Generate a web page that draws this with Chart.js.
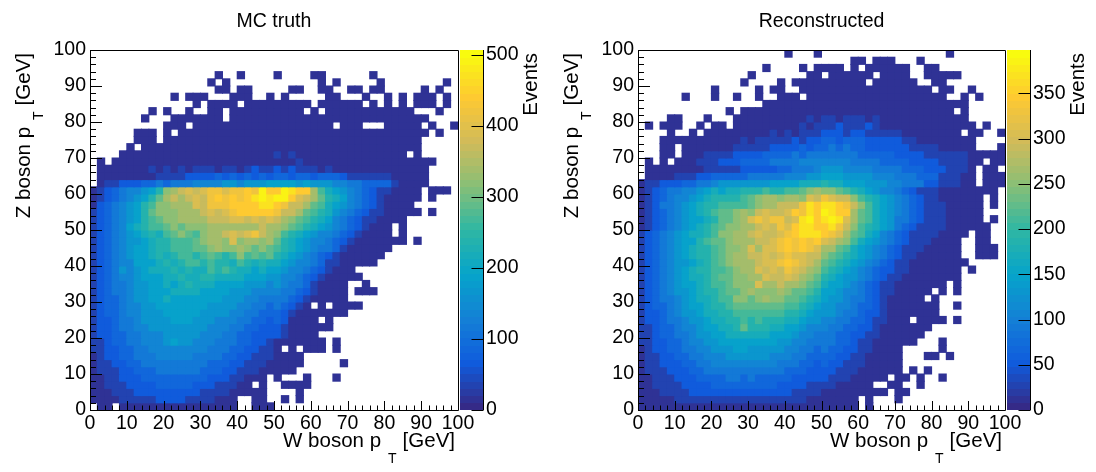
<!DOCTYPE html>
<html>
<head>
<meta charset="utf-8">
<script src="https://cdn.jsdelivr.net/npm/chart.js@4.4.0/dist/chart.umd.min.js"></script>
<style>
  html, body { margin: 0; padding: 0; background: #fff; }
  #wrap { position: relative; width: 1096px; height: 472px; }
  canvas { position: absolute; top: 0; }
</style>
</head>
<body>
<div id="wrap">
  <canvas id="truthChart" width="548" height="472" style="left:0"></canvas>
  <canvas id="recoChart" width="548" height="472" style="left:548px"></canvas>
</div>
<script>
// 50 x 50 bins of 2 GeV, W pT along x, Z pT along y
var binWidth = 2;
var nBins = 50;

// one string per Z pT row, top row (98-100 GeV) first, 50 W pT bins each
// '.' = empty bin, '1'..'9','A'..'K' = colour levels 1..20 of the Events scale
var levelChars = '.123456789ABCDEFGHIJK';

var truthRows = [
  '..... ..... ..... ..... ..... ..... ..... ..... ..... .....',
  '..... ..... ..... ..... ..... ..... ..... ..... ..... .....',
  '..... ..... ..... ..... ..... ..... ..... ..... ..... .....',
  '..... ..... ..... ..1.. 1.... 1.... 11... ...1. ..... .....',
  '..... ..... ..... .1.1. ..... ..... .1.1. ....1 ..... ...1.',
  '..... ..... ..... ..11. 11... ..11. .11.. 11.11 ..... 1.1..',
  '..... ..... .1.11 1...1 11..1 .1... ..11. ..1.. 1.1.1 11.1.',
  '..... ..... ....1 .1111 .1111 11111 .1111 11.1. 1.1.1 11.1.',
  '..... ...1. 1..1. .11.1 11111 1111. 1.111 11111 1111. ..1..',
  '..... ..1.. .1111 111.1 11111 11111 11111 11111 11111 1....',
  '..... ..... 111.1 11111 11111 11111 111.1 11... 11111 .1..1',
  '..... .111. 1.111 11111 11111 11111 11111 11111 11111 1.1..',
  '..... .111. 11111 11111 11111 11111 11111 11111 11111 .....',
  '..... 1.111 11111 11111 11111 11111 11111 11111 11111 .....',
  '....1 11111 11111 11111 11111 21211 11111 11111 111.1 .....',
  '.1.11 11111 11111 11111 11111 11121 11111 11111 11111 11...',
  '.1111 11121 21212 22122 12322 32322 21211 11111 11111 1....',
  '.1111 11112 22233 33434 34343 44344 34443 22222 21111 1....',
  '.1223 33445 45556 66677 67778 88878 77766 55444 42111 1....',
  '12345 6678A DEFGF GHHGH HIHKI IKJII EB987 65432 21111 .111.',
  '12345 678AC EFEFG FHIHI HIJKJ KKIGF ECA98 65432 11111 .1...',
  '13456 78ABD DEEEG FHHHI IIIJJ IHFFE CB987 65432 1111. .....',
  '23456 78ACD DDEEE FGFGH IIIII HFFEC BA976 54322 11111 .1...',
  '23456 78ABC DDEEE EFFFG GFGFG FEDCB A9865 43221 111.. .....',
  '23456 89ABB CDCDD DEEEE EEEFE EDCBA 98765 43211 1.1.. .....',
  '23456 789A9 BCDCB DEEFG FGHFE DBA98 76654 32111 1.1.. .....',
  '23456 7789A ABBBC DEEDG DEEDE CA987 66543 21111 111.1 .....',
  '23456 7889A ABBBC CDEDD EDCDC BA987 65542 11111 1.... .....',
  '23456 7889A 9ABBA BCBAB DBCBC A9876 54321 11111 ..... .....',
  '23456 68889 A9ABB ABAA9 BA9A9 98766 54221 1111. ..... .....',
  '23457 67899 9A9A9 9BABA 99898 87665 43211 1.... ..... .....',
  '23456 67888 99A99 AA999 98887 76654 32111 11... ..... .....',
  '23455 67788 989A9 99888 87776 76554 21111 ..1.. ..... .....',
  '23455 67788 89999 88887 77666 65543 21111 .111. ..... .....',
  '23445 67788 98888 88877 76655 55432 11111 ..... ..... .....',
  '23445 66778 88888 87777 66554 54321 .1.11 11... ..... .....',
  '23445 66777 88888 77776 65544 43211 11111 ..... ..... .....',
  '23345 56777 78887 77666 55443 43111 1.1.. ..... ..... .....',
  '23345 56677 77777 76665 54433 32111 111.. ..... ..... .....',
  '23344 55666 77777 66655 44333 32111 1.... ..... ..... .....',
  '22344 55666 78776 66555 44332 11111 11.1. ..... ..... .....',
  '22334 45566 66666 65554 43322 1.1.1 11.1. ..... ..... .....',
  '12334 45556 66665 55544 33222 1111. ..... ..... ..... .....',
  '12233 44555 55555 54443 32221 1111. ....1 ..... ..... .....',
  '12223 34445 55555 44433 22211 111.. ..... ..... ..... .....',
  '11223 33444 44444 43332 2111. 1...1 ...1. ..... ..... .....',
  '11222 33334 44443 33222 11.1. .1111 ..... ..... ..... .....',
  '11122 23333 33333 22221 1111. ...1. ..... ..... ..... .....',
  '11112 22223 33322 22111 ..11. .1.1. ..... ..... ..... .....',
  '.11.1 11111 11111 11111 ..111 ..... ..... ..... ..... .....'
];

var recoRows = [
  '..... ..... ..... ..... 1...1 ..... ..... ..... ..1.. .....',
  '..... ..... ..... ..... ..... ....1 1.111 ...1. ..... .....',
  '..... ..... ..... ..1.. ..1.1 111.1 .1111 11..1 1.... .....',
  '..... ..... ..... 1.... ...11 .1111 11.11 11..1 1111. .....',
  '..... ..... ....1 ....1 .1111 11111 1.111 111.. 11... .....',
  '..... ..... 1.... .1.11 ..111 11111 11111 11111 .11.. 1....',
  '..... .1... 1..1. .1..1 11.11 11111 11111 11111 11..1 .1...',
  '..... ..... ..... ..111 11111 11111 11111 11111 11111 .....',
  '..... ..... ..1.1 11111 11111 11111 11111 11111 111.1 .....',
  '....1 1...1 ...11 11111 11121 22122 21211 11111 11111 .....',
  '.1.11 1..1. 11.11 11111 11212 22322 23211 11111 11111 1.1..',
  '....1 ..1.1 11111 11121 21222 33323 32222 21111 1111. 11..1',
  '...11 11111 11112 12222 23233 44344 43333 32211 11111 1....',
  '...11 .1111 11122 22233 33434 45454 43333 33222 21111 1...1',
  '...11 .1112 22233 33444 45455 55555 44444 33332 22222 11111',
  '.1.1. 11122 23334 44455 55666 66665 55544 44333 32222 11.11',
  '.1111 11112 22223 33334 45556 77766 66555 54443 33222 1.11.',
  '.1111 22233 44444 55555 66677 88877 77666 55544 42221 1.111',
  '12233 34455 67777 77788 88999 A9988 87776 65553 32221 1.111',
  '12345 56678 9899A AABAA BBCDE DDCBA 98766 54322 21111 1111.',
  '12345 66789 AAAAB CDEED EEDGF HGFFD BA987 65432 21111 11.1.',
  '12355 6789A ABBBB CDEEF FFHJI JJIHF DB987 65432 22111 11.1.',
  '12345 6789A BCCDE DFGFF GIHJI KJIIE CB987 65432 22111 11...',
  '12345 67889 ACCDE GHGHH FGJKI JKJGE CB987 55432 22111 11.1.',
  '12345 6789A BCDDE EFGFH GIJJI IJHFD BA987 54322 22111 111..',
  '23456 7899A BDDEE FGFFG HIJJJ IHGEC B9865 43222 21111 .11..',
  '23456 788AB CCDEE EFFGH IHIHI GFEDB 98765 43222 1111. .11..',
  '23456 789AA BCDDE GEGGH IHIHG EECB9 87654 32221 1111. .111.',
  '23456 789AA BCDEE FFGFG HGGFF DCBA9 87654 32211 1111. .111.',
  '23456 7789A BCDEE EFGGH IHGFE CBA98 76543 22111 11111 .....',
  '23456 789AA BBCDE EGFGF HGFED BA987 65433 22111 1111. 1....',
  '23456 7899A BCCDD EEGFF GFEDC A9877 65432 21111 1111. .....',
  '23456 7889A BBCDD DGEEF EEDCB 98876 54322 11111 11.1. .....',
  '23456 7789A ABCCD EDDDE DCCBA 88766 54322 11111 .1.1. .....',
  '23455 67899 ABBDD CDEDD CCBA9 87765 54321 1111. 1.... .....',
  '23445 67889 AABCC CCCCC BBA98 77665 44321 11111 1..1. .....',
  '23345 67789 9AABB BBBBB AA987 77655 43321 11111 1.... .....',
  '23345 56778 99AAB ABAAA 99877 66554 43221 11.11 11.1. .....',
  '22344 56678 899AC AAA99 88766 65544 33211 11111 ..... .....',
  '22344 55677 88999 99988 87665 55443 32211 1111. ..... .....',
  '22334 45667 78888 88887 76655 55443 22111 111.. .1... .....',
  '12334 45566 77788 77777 66554 54433 22111 1.... .1... .....',
  '12233 44556 66777 77766 65544 44332 21111 1...1 1.1.. .....',
  '12233 34455 66666 66665 55443 43322 21111 1.... ..... .....',
  '12223 33445 55555 55555 44433 33222 11111 1.1.1 ..... .....',
  '11222 33344 44554 54444 43333 32221 1111. 11.1. .1... .....',
  '11222 23333 44444 44443 33322 22111 11..1 1..1. ..... .....',
  '11122 22333 33333 33333 32222 11111 1111. 11... ..... .....',
  '11111 22222 22222 22222 22211 11111 .1... 1.... ..... .....',
  '11111 11111 11111 11111 11111 11111 .1... ..... ..... .....'
];

// top of the Events colour scale and its tick labels
var truthMax = 507;
var recoMax = 398;
var truthTicks = [0, 100, 200, 300, 400, 500];
var recoTicks = [0, 50, 100, 150, 200, 250, 300, 350];

// ROOT kBird palette
var birdStops = [0, 0.125, 0.25, 0.375, 0.5, 0.625, 0.75, 0.875, 1];
var birdR = [0.2082, 0.0592, 0.0780, 0.0232, 0.1802, 0.5301, 0.8186, 0.9956, 0.9764];
var birdG = [0.1664, 0.3599, 0.5041, 0.6419, 0.7178, 0.7492, 0.7328, 0.7862, 0.9832];
var birdB = [0.5293, 0.8684, 0.8385, 0.7914, 0.6425, 0.4662, 0.3499, 0.1968, 0.0539];
var nCont = 50;
var fontFam = "'Liberation Sans', Arial, Helvetica, sans-serif";

function bird(f) {
    var k = 1;
    while (k < birdStops.length - 1 && f > birdStops[k]) k++;
    var t = (f - birdStops[k - 1]) / (birdStops[k] - birdStops[k - 1]);
    var c = function (a) { return Math.round(255 * (a[k - 1] + t * (a[k] - a[k - 1]))); };
    return 'rgb(' + c(birdR) + ',' + c(birdG) + ',' + c(birdB) + ')';
}

function colourFor(v, zMax) {
    var k = Math.min(nCont - 1, Math.floor(v / zMax * nCont));
    return bird(k / (nCont - 1));
}

// one floating-bar dataset per Z pT row
function rowDatasets(rows, zMax) {
    var sets = [];
    rows.forEach(function (row, r) {
        var s = row.replace(/ /g, '');
        var j = nBins - 1 - r;
        var data = [], colours = [];
        for (var i = 0; i < s.length; i++) {
            var L = levelChars.indexOf(s[i]);
            if (L <= 0) continue;
            var events = Math.round((L - 0.5) / 20 * zMax);
            data.push({ x: (i + 0.5) * binWidth, y: [j * binWidth, (j + 1) * binWidth], v: events });
            colours.push(colourFor(events, zMax));
        }
        sets.push({
            label: 'Z pT ' + (j * binWidth) + '-' + ((j + 1) * binWidth),
            data: data,
            backgroundColor: colours,
            borderWidth: 0,
            grouped: false,
            barPercentage: 1,
            categoryPercentage: 1,
            inflateAmount: 0.5,
            xAxisID: 'x',
            yAxisID: 'y'
        });
    });
    return sets;
}

// "<name> boson p_T [GeV]" ending at xEnd on baseline yBase of the current transform
function drawPtTitle(ctx, name, xEnd, yBase, subDrop) {
    var big = '20.5px ' + fontFam, small = '14px ' + fontFam;
    var head = name + ' boson p', tail = '[GeV]';
    ctx.textAlign = 'left';
    ctx.textBaseline = 'alphabetic';
    ctx.font = big;
    var wTail = ctx.measureText(tail).width;
    var wHead = ctx.measureText(head).width;
    ctx.font = small;
    var wT = ctx.measureText('T').width;
    var x = xEnd - wTail;
    ctx.font = big;
    ctx.fillText(tail, x, yBase);
    x -= 6 + wT;
    ctx.font = small;
    ctx.fillText('T', x, yBase + subDrop);
    x -= 7 + wHead;
    ctx.font = big;
    ctx.fillText(head, x, yBase);
}

var rootStyle = {
    id: 'rootStyle',
    afterDraw: function (chart, args, o) {
        var ctx = chart.ctx, a = chart.chartArea;
        var xs = chart.scales.x, ys = chart.scales.y, zs = chart.scales.z;
        ctx.save();

        // palette bar
        var bx0 = a.right + 2, bx1 = a.right + 26;
        for (var k = 0; k < nCont; k++) {
            var yb = zs.getPixelForValue(k * o.zMax / nCont);
            var yt = zs.getPixelForValue((k + 1) * o.zMax / nCont);
            ctx.fillStyle = bird(k / (nCont - 1));
            ctx.fillRect(bx0, Math.floor(yt), bx1 - bx0, Math.ceil(yb) - Math.floor(yt));
        }

        ctx.strokeStyle = '#000';
        ctx.lineWidth = 1;
        ctx.beginPath();
        var ax = Math.round(bx1) - 0.5;
        ctx.moveTo(ax, a.top);
        ctx.lineTo(ax, a.bottom);
        zs.ticks.forEach(function (t) {
            var y = Math.round(zs.getPixelForValue(t.value)) + 0.5;
            ctx.moveTo(ax, y);
            ctx.lineTo(ax - 12, y);
        });

        // frame
        var l = Math.round(a.left), tp = Math.round(a.top), r = Math.round(a.right), b = Math.round(a.bottom);
        ctx.rect(l + 0.5, tp + 0.5, r - l, b - tp);

        // ticks on the inside of the bottom and left axes
        for (var v = 0; v <= 100; v += binWidth) {
            var major = v % 10 === 0;
            var px = Math.round(xs.getPixelForValue(v)) + 0.5;
            ctx.moveTo(px, b);
            ctx.lineTo(px, b - (major ? 9 : 4.5));
            var py = Math.round(ys.getPixelForValue(v)) + 0.5;
            ctx.moveTo(l, py);
            ctx.lineTo(l + (major ? 12 : 6), py);
        }
        ctx.stroke();

        // texts
        ctx.fillStyle = '#000';
        ctx.textBaseline = 'alphabetic';
        ctx.textAlign = 'center';
        ctx.font = '19.5px ' + fontFam;
        ctx.fillText(o.title, (a.left + a.right) / 2, 27);

        drawPtTitle(ctx, 'W', a.right - 3, a.bottom + 37, 16);

        ctx.save();
        ctx.translate(a.left - 60, a.top + 3);
        ctx.rotate(-Math.PI / 2);
        drawPtTitle(ctx, 'Z', 0, 0, 13);
        ctx.restore();

        ctx.save();
        ctx.translate(a.right + 79, a.top + 3);
        ctx.rotate(-Math.PI / 2);
        ctx.textAlign = 'right';
        ctx.font = '20.5px ' + fontFam;
        ctx.fillText('Events', 0, 0);
        ctx.restore();

        ctx.restore();
    }
};

Chart.defaults.font.family = fontFam;
Chart.defaults.font.size = 19.5;
Chart.defaults.color = '#000';

function makeChart(id, rows, zMax, zTicks, title, rightWidth) {
    var ctx = document.getElementById(id).getContext('2d');
    return new Chart(ctx, {
        type: 'bar',
        data: { datasets: rowDatasets(rows, zMax) },
        options: {
            responsive: false,
            animation: false,
            events: [],
            layout: { padding: { top: 50, left: 0, right: 0, bottom: 0 } },
            plugins: {
                legend: { display: false },
                tooltip: { enabled: false },
                rootStyle: { zMax: zMax, title: title }
            },
            scales: {
                x: {
                    type: 'linear',
                    position: 'bottom',
                    min: 0,
                    max: 100,
                    offset: false,
                    grid: { display: false, drawTicks: false, offset: false },
                    border: { display: false },
                    ticks: { stepSize: 10, autoSkip: false, maxRotation: 0, padding: 2 },
                    afterFit: function (s) { s.height = 62; }
                },
                y: {
                    type: 'linear',
                    position: 'left',
                    min: 0,
                    max: 100,
                    grid: { display: false, drawTicks: false },
                    border: { display: false },
                    ticks: { stepSize: 10, autoSkip: false, padding: 4 },
                    afterFit: function (s) { s.width = 90; }
                },
                z: {
                    axis: 'y',
                    type: 'linear',
                    position: 'right',
                    min: 0,
                    max: zMax,
                    grid: { display: true, drawOnChartArea: false, drawTicks: true, tickLength: 26, tickColor: 'rgba(0,0,0,0)' },
                    border: { display: false },
                    ticks: { autoSkip: false, padding: 2 },
                    afterBuildTicks: function (s) { s.ticks = zTicks.map(function (v) { return { value: v }; }); },
                    afterFit: function (s) { s.width = rightWidth; }
                }
            }
        },
        plugins: [rootStyle]
    });
}

var truthChart = makeChart('truthChart', truthRows, truthMax, truthTicks, 'MC truth', 90);
var recoChart = makeChart('recoChart', recoRows, recoMax, recoTicks, 'Reconstructed', 91);
</script>
</body>
</html>
